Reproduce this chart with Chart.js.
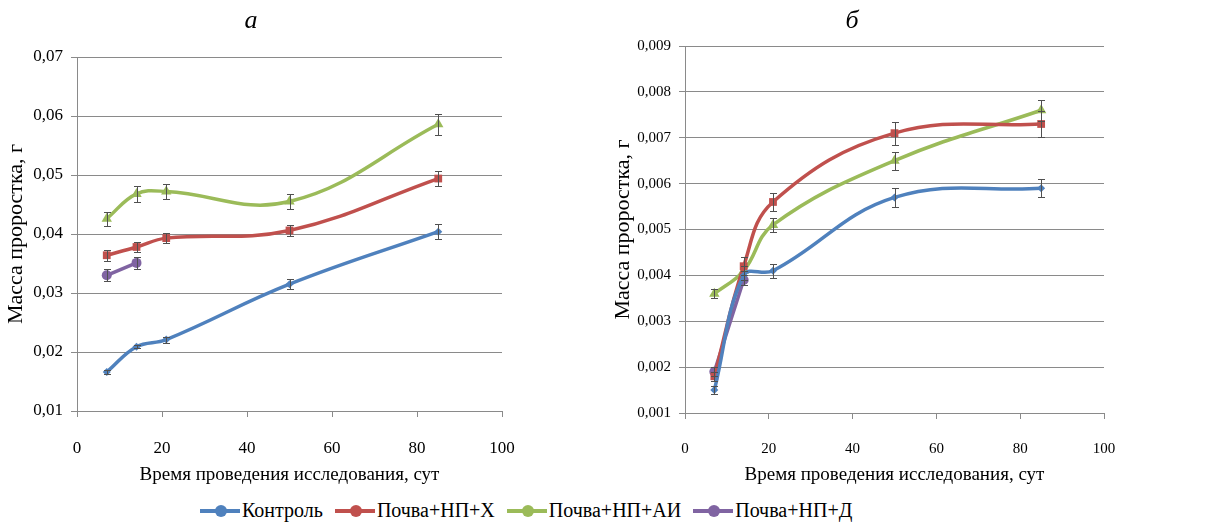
<!DOCTYPE html>
<html>
<head>
<meta charset="utf-8">
<script src="https://cdn.jsdelivr.net/npm/chart.js@4"></script>
<style>
  body { margin: 0; background: #fff; width: 1206px; height: 524px; overflow: hidden; position: relative; font-family: 'Liberation Serif', serif; }
  #wrapA { position: absolute; left: 0; top: 0; width: 600px; height: 490px; }
  #wrapB { position: absolute; left: 600px; top: 0; width: 606px; height: 490px; }
  #legend { position: absolute; left: 200px; top: 499px; display: flex; align-items: center; font-size: 20px; color: #000; white-space: nowrap; }
  .item { display: flex; align-items: center; margin-right: 12px; }
  .mark { position: relative; width: 40px; height: 4px; margin-right: 2px; }
  .mark span { position: absolute; left: 15px; top: -4px; width: 12px; height: 12px; border-radius: 50%; }
</style>
</head>
<body>
<div id="wrapA"><canvas id="chartA"></canvas></div>
<div id="wrapB"><canvas id="chartB"></canvas></div>
<div id="legend"></div>
<script>
const seriesNames = ['Контроль', 'Почва+НП+Х', 'Почва+НП+АИ', 'Почва+НП+Д']
const seriesColors = ['#4F81BD', '#C0504D', '#9BBB59', '#8064A2']
const pointStyles = ['rectRot', 'rect', 'triangle', 'circle']
const pointSizes = [4, 5.5, 6, 5]

const days = [7, 14, 21, 50, 85]
const daysD = [7, 14]

// график а
const kontrolA = [0.0166, 0.0209, 0.0221, 0.0315, 0.0404]
const pochvaXA = [0.0364, 0.0378, 0.0393, 0.0406, 0.0494]
const pochvaAIA = [0.0426, 0.0468, 0.0472, 0.0455, 0.0586]
const pochvaDA = [0.0330, 0.0351]
const errKontrolA = [0.0004, 0.0003, 0.0005, 0.0009, 0.0013]
const errPochvaXA = [0.0009, 0.0008, 0.0008, 0.0009, 0.0013]
const errPochvaAIA = [0.0012, 0.0014, 0.0013, 0.0013, 0.0018]
const errPochvaDA = [0.0010, 0.0010]

// график б
const kontrolB = [0.0015, 0.0040, 0.0041, 0.0057, 0.0059]
const pochvaXB = [0.0018, 0.0042, 0.0056, 0.0071, 0.0073]
const pochvaAIB = [0.0036, 0.0041, 0.0051, 0.0065, 0.0076]
const pochvaDB = [0.0019, 0.0039]
const errKontrolB = [0.00008, 0.0001, 0.00015, 0.0002, 0.0002]
const errPochvaXB = [0.0001, 0.0002, 0.0002, 0.00025, 0.00028]
const errPochvaAIB = [0.0001, 0.0001, 0.00015, 0.0002, 0.00023]
const errPochvaDB = [0.0001, 0.0001]

const xTicks = ['0', '20', '40', '60', '80', '100']
const yTicksA = ['0,01', '0,02', '0,03', '0,04', '0,05', '0,06', '0,07']
const yTicksB = ['0,001', '0,002', '0,003', '0,004', '0,005', '0,006', '0,007', '0,008', '0,009']

const xTitle = 'Время проведения исследования, сут'
const yTitle = 'Масса проростка, г'

const gridColor = '#8a8a8a'
const serif = "'Liberation Serif', 'Times New Roman', serif"

// усы погрешностей
const errorBars = {
    id: 'errorBars',
    afterDatasetsDraw(chart) {
        const ctx = chart.ctx
        const yScale = chart.scales.y
        ctx.save()
        ctx.strokeStyle = '#505050'
        ctx.lineWidth = 1
        chart.data.datasets.forEach(function(ds, i) {
            const meta = chart.getDatasetMeta(i)
            ds.errors.forEach(function(e, j) {
                const p = meta.data[j]
                const v = ds.data[j].y
                const x = Math.round(p.x) + 0.5
                const y1 = Math.round(yScale.getPixelForValue(v + e)) + 0.5
                const y2 = Math.round(yScale.getPixelForValue(v - e)) + 0.5
                ctx.beginPath()
                ctx.moveTo(x, y1); ctx.lineTo(x, y2)
                ctx.moveTo(x - 3.5, y1); ctx.lineTo(x + 3.5, y1)
                ctx.moveTo(x - 3.5, y2); ctx.lineTo(x + 3.5, y2)
                ctx.stroke()
            })
        })
        ctx.restore()
    }
}

function makeDataset(i, xs, ys, errs) {
    return {
        label: seriesNames[i],
        data: xs.map((x, k) => ({ x: x, y: ys[k] })),
        errors: errs,
        borderColor: seriesColors[i],
        backgroundColor: seriesColors[i],
        borderWidth: 3.5,
        tension: 0.4,
        pointStyle: pointStyles[i],
        pointRadius: pointSizes[i],
        pointBorderWidth: 0
    }
}

function makeChart(id, title, sets, yMin, yMax, yStep, yLabels, geo) {
    return new Chart(document.getElementById(id), {
        type: 'line',
        data: { datasets: sets },
        options: {
            responsive: true,
            maintainAspectRatio: false,
            animation: false,
            layout: { padding: { left: 0, right: geo.right, top: 0, bottom: 0 } },
            plugins: {
                legend: { display: false },
                tooltip: { enabled: false },
                title: {
                    display: true,
                    text: title,
                    color: '#000',
                    font: { family: serif, size: 26, style: 'italic', weight: 'normal' },
                    padding: { top: 6, bottom: geo.top - 37.2 }
                }
            },
            scales: {
                x: {
                    type: 'linear',
                    min: 0, max: 100,
                    afterFit(s) { s.height = geo.xh },
                    ticks: {
                        stepSize: 20,
                        color: '#000',
                        padding: geo.xpad,
                        font: { family: serif, size: geo.tick },
                        callback: (v, idx) => xTicks[idx]
                    },
                    grid: { drawOnChartArea: false, drawTicks: true, tickLength: 6, color: gridColor },
                    border: { color: gridColor },
                    title: {
                        display: true,
                        text: xTitle,
                        color: '#000',
                        font: { family: serif, size: 19 },
                        padding: { top: 0, bottom: 4 }
                    }
                },
                y: {
                    min: yMin, max: yMax,
                    afterFit(s) { s.width = geo.yw },
                    ticks: {
                        stepSize: yStep,
                        color: '#000',
                        padding: 8,
                        font: { family: serif, size: geo.tick },
                        callback: (v, idx) => yLabels[idx]
                    },
                    grid: { color: gridColor, tickLength: 6 },
                    border: { color: gridColor },
                    title: {
                        display: true,
                        text: yTitle,
                        color: '#000',
                        font: { family: serif, size: 22 },
                        padding: { top: geo.ytp, bottom: 0 }
                    }
                }
            }
        },
        plugins: [errorBars]
    })
}

makeChart('chartA', 'а', [
    makeDataset(0, days, kontrolA, errKontrolA),
    makeDataset(1, days, pochvaXA, errPochvaXA),
    makeDataset(2, days, pochvaAIA, errPochvaAIA),
    makeDataset(3, daysD, pochvaDA, errPochvaDA)
], 0.01, 0.07, 0.01, yTicksA, { right: 98, top: 57, xh: 79, yw: 77, ytp: 3, tick: 17, xpad: 21 })

makeChart('chartB', 'б', [
    makeDataset(0, days, kontrolB, errKontrolB),
    makeDataset(1, days, pochvaXB, errPochvaXB),
    makeDataset(2, days, pochvaAIB, errPochvaAIB),
    makeDataset(3, daysD, pochvaDB, errPochvaDB)
], 0.001, 0.009, 0.001, yTicksB, { right: 102, top: 46, xh: 77, yw: 85, ytp: 10, tick: 15, xpad: 21 })

// общая легенда
const legend = document.getElementById('legend')
seriesNames.forEach(function(name, i) {
    const item = document.createElement('div')
    item.className = 'item'
    const mark = document.createElement('div')
    mark.className = 'mark'
    mark.style.background = seriesColors[i]
    const dot = document.createElement('span')
    dot.style.background = seriesColors[i]
    mark.appendChild(dot)
    const txt = document.createElement('span')
    txt.textContent = name
    item.appendChild(mark)
    item.appendChild(txt)
    legend.appendChild(item)
})
</script>
</body>
</html>
